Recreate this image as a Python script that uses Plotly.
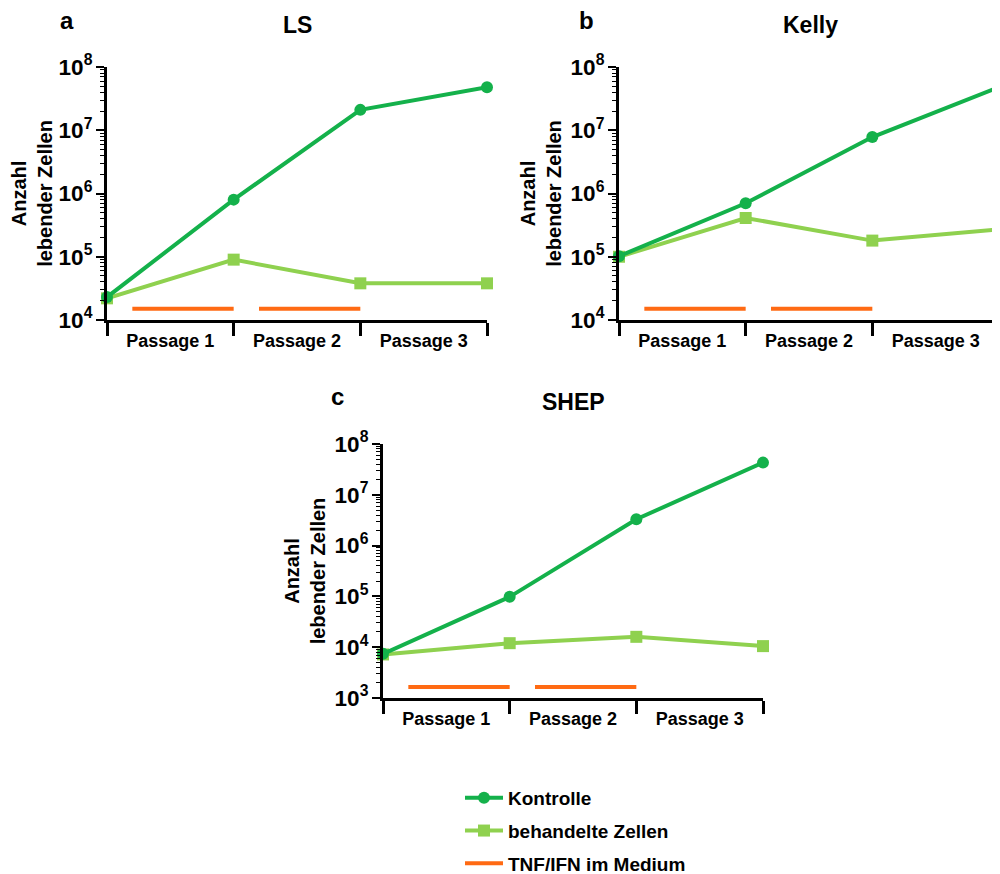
import plotly.graph_objects as go

# ---- data ----
x_pos = [0, 1, 2, 3]
passage_labels = ["Passage 1", "Passage 2", "Passage 3"]
passage_centers = [0.5, 1.5, 2.5]

ls_kontrolle = [2.3e4, 8.0e5, 2.1e7, 4.8e7]
ls_behandelt = [2.2e4, 9.0e4, 3.8e4, 3.8e4]
kelly_kontrolle = [1.02e5, 7.0e5, 7.8e6, 4.8e7]
kelly_behandelt = [1.0e5, 4.1e5, 1.8e5, 2.7e5]
shep_kontrolle = [7.4e3, 9.8e4, 3.3e6, 4.3e7]
shep_behandelt = [7.2e3, 1.2e4, 1.6e4, 1.05e4]

tnf_x = [0.2, 1.0, None, 1.2, 2.0]
tnf_level_ab = 1.5e4
tnf_level_c = 1.65e3

panel_titles = ["LS", "Kelly", "SHEP"]
panel_letters = ["a", "b", "c"]
y_ranges = [[4, 8], [4, 8], [3, 8]]

# ---- style / layout helpers ----
C_K = "#14b14b"
C_B = "#8fd14f"
C_T = "#ff6a13"
FONT = "Liberation Sans, Arial, sans-serif"

W, H = 1000, 874
OFF = 8            # page offset of the plot div (body margin)
MB = 60            # bottom margin (room for legend)
PH = H - MB


def fx(px):
    return (px - OFF) / W


def fy(py):
    return 1 - (py - OFF) / PH


fig = go.Figure()

panels = [
    ("x", "y", ls_kontrolle, ls_behandelt, tnf_level_ab),
    ("x2", "y2", kelly_kontrolle, kelly_behandelt, tnf_level_ab),
    ("x3", "y3", shep_kontrolle, shep_behandelt, tnf_level_c),
]

for i, (xa, ya, kon, beh, tl) in enumerate(panels):
    first = i == 0
    fig.add_trace(go.Scatter(
        x=x_pos, y=beh, xaxis=xa, yaxis=ya, mode="lines+markers",
        name="behandelte Zellen", legendgroup="b", showlegend=first, legendrank=2,
        line=dict(color=C_B, width=4),
        marker=dict(symbol="square", size=12, color=C_B), cliponaxis=False))
    fig.add_trace(go.Scatter(
        x=x_pos, y=kon, xaxis=xa, yaxis=ya, mode="lines+markers",
        name="Kontrolle", legendgroup="k", showlegend=first, legendrank=1,
        line=dict(color=C_K, width=4),
        marker=dict(symbol="circle", size=12, color=C_K), cliponaxis=False))
    fig.add_trace(go.Scatter(
        x=tnf_x, y=[tl, tl, None, tl, tl], xaxis=xa, yaxis=ya, mode="lines",
        name="TNF/IFN im Medium", legendgroup="t", showlegend=first, legendrank=3,
        line=dict(color=C_T, width=4), cliponaxis=False))

dom_px_x = [(107, 487), (619, 999), (383, 763)]
dom_px_y = [(67, 320), (67, 320), (444, 698)]

for i in range(3):
    sfx = "" if i == 0 else str(i + 1)
    x0, x1 = dom_px_x[i]
    y0, y1 = dom_px_y[i]
    fig.update_layout(**{
        "xaxis" + sfx: dict(
            domain=[fx(x0), fx(x1)], range=[0, 3], anchor="y" + sfx,
            showgrid=False, zeroline=False, showline=True, linecolor="black", linewidth=3,
            tickvals=passage_centers, ticktext=passage_labels, ticks="", ticklabelstandoff=2,
            tickfont=dict(family=FONT, size=18, color="black", weight="bold"),
            minor=dict(tick0=0, dtick=1, ticks="outside", ticklen=13, tickwidth=3, tickcolor="black"),
            automargin=False, fixedrange=True),
        "yaxis" + sfx: dict(
            domain=[fy(y1), fy(y0)], type="log", range=y_ranges[i], anchor="x" + sfx,
            showgrid=False, zeroline=False, showline=True, linecolor="black", linewidth=3,
            dtick=1, exponentformat="power", ticks="outside", ticklen=8, tickwidth=2, tickcolor="black",
            tickfont=dict(family=FONT, size=18, color="black", weight="bold"),
            minor=dict(ticks="outside", ticklen=4, tickwidth=1, tickcolor="black", dtick="D1", showgrid=False),
            title=dict(text="Anzahl<br>lebender Zellen", standoff=4,
                       font=dict(family=FONT, size=20, color="black", weight="bold")),
            automargin=False, fixedrange=True),
    })

annotations = []
title_pos = [(297, 25), (810, 25), (573, 402)]
letter_pos = [(67, 20), (586, 20), (337, 396)]
for i in range(3):
    tx, ty = title_pos[i]
    annotations.append(dict(text=panel_titles[i], x=fx(tx), y=fy(ty), xref="paper", yref="paper",
                            showarrow=False, xanchor="center", yanchor="middle",
                            font=dict(family=FONT, size=23, color="black", weight="bold")))
    lx, ly = letter_pos[i]
    annotations.append(dict(text=panel_letters[i], x=fx(lx), y=fy(ly), xref="paper", yref="paper",
                            showarrow=False, xanchor="center", yanchor="middle",
                            font=dict(family=FONT, size=24, color="black", weight="bold")))

fig.update_layout(
    width=W, height=H,
    margin=dict(l=0, r=0, t=0, b=MB, autoexpand=False),
    paper_bgcolor="white", plot_bgcolor="white",
    annotations=annotations,
    showlegend=True,
    legend=dict(x=fx(460), y=fy(779), xanchor="left", yanchor="top",
                font=dict(family=FONT, size=19, color="black", weight="bold"),
                tracegroupgap=5, itemwidth=38, bgcolor="rgba(0,0,0,0)"),
)

fig.write_html("out.html")
